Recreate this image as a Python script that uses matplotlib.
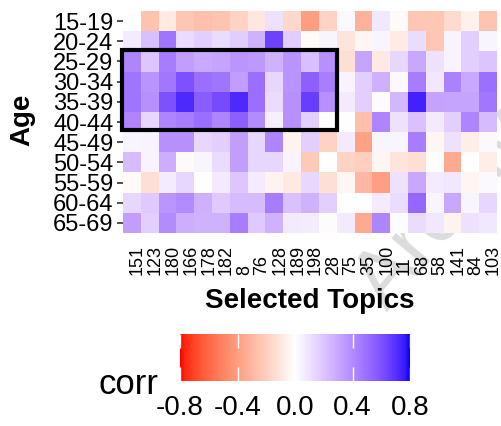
import numpy as np
import matplotlib
matplotlib.use('Agg')
import matplotlib.pyplot as plt
from matplotlib.colors import ListedColormap
from matplotlib.patches import Rectangle
import matplotlib.transforms as mtransforms

plt.rcParams['font.family'] = ['Liberation Sans', 'DejaVu Sans']
plt.rcParams['axes.unicode_minus'] = False

ages = ['15-19', '20-24', '25-29', '30-34', '35-39', '40-44',
        '45-49', '50-54', '55-59', '60-64', '65-69']
topics = ['151', '123', '180', '166', '178', '182', '8', '76', '128', '189', '198',
          '28', '75', '35', '100', '11', '68', '58', '141', '84', '103']

# correlation per age group (rows) and topic (columns)
corr = [
    [0.00, -0.25, -0.09, -0.23, -0.26, -0.24, -0.18, -0.10, 0.10, -0.16, -0.40, -0.18, 0.02, -0.32, 0.08, -0.02, -0.23, -0.23, -0.15, -0.06, -0.24],
    [0.06, 0.22, 0.48, 0.12, 0.16, 0.12, 0.17, 0.26, 0.65, 0.17, -0.02, 0.03, -0.11, -0.04, 0.03, -0.08, 0.12, -0.23, 0.04, 0.16, 0.03],
    [0.42, 0.19, 0.45, 0.33, 0.29, 0.31, 0.36, 0.35, 0.26, 0.37, 0.22, 0.38, -0.13, 0.31, -0.09, 0.14, 0.30, 0.10, 0.04, 0.16, 0.20],
    [0.48, 0.37, 0.47, 0.60, 0.50, 0.48, 0.33, 0.50, 0.14, 0.37, 0.55, 0.44, 0.04, 0.16, 0.27, 0.02, 0.45, 0.08, 0.43, 0.29, 0.49],
    [0.48, 0.38, 0.60, 0.72, 0.56, 0.62, 0.72, 0.50, 0.12, 0.38, 0.66, 0.38, 0.07, 0.16, 0.01, 0.24, 0.74, 0.32, 0.31, 0.31, 0.47],
    [0.42, 0.14, 0.42, 0.45, 0.50, 0.42, 0.55, 0.40, 0.05, 0.38, 0.16, 0.00, 0.00, -0.26, 0.42, 0.10, 0.21, 0.07, 0.16, 0.42, 0.23],
    [0.03, 0.04, 0.38, 0.38, 0.14, 0.16, 0.33, 0.14, 0.42, -0.05, 0.16, -0.18, 0.07, -0.38, 0.03, 0.03, 0.45, -0.04, 0.10, -0.07, 0.02],
    [0.23, 0.04, 0.28, -0.02, 0.03, 0.12, 0.33, 0.14, 0.14, 0.04, -0.22, 0.00, -0.18, -0.20, -0.04, -0.11, -0.13, 0.00, -0.35, 0.00, -0.07],
    [-0.02, -0.13, 0.06, 0.14, 0.00, 0.07, 0.19, 0.06, -0.05, -0.09, 0.13, -0.13, -0.04, -0.29, -0.39, 0.10, 0.30, 0.06, 0.08, -0.04, 0.02],
    [0.14, 0.18, 0.36, 0.40, 0.27, 0.18, 0.23, 0.23, 0.45, 0.21, 0.26, 0.16, 0.00, 0.00, 0.06, 0.12, 0.52, 0.03, 0.30, 0.03, 0.14],
    [0.33, 0.16, 0.40, 0.28, 0.26, 0.26, 0.45, 0.18, 0.26, 0.07, 0.06, -0.01, 0.07, -0.35, 0.42, 0.01, 0.12, 0.08, -0.05, 0.10, 0.08],
]

cbar_ticks = [-0.8, -0.4, 0.0, 0.4, 0.8]
cbar_labels = ['-0.8', '-0.4', '0.0', '0.4', '0.8']

# ggplot-like red-white-blue gradient, interpolated in Lab space
M = np.array([[0.4124, 0.3576, 0.1805],
              [0.2126, 0.7152, 0.0722],
              [0.0193, 0.1192, 0.9505]])
WP = np.array([0.95047, 1.0, 1.08883])


def to_lab(c):
    c = np.asarray(c, float)
    lin = np.where(c <= 0.04045, c / 12.92, ((c + 0.055) / 1.055) ** 2.4)
    xyz = M @ lin / WP
    f = np.where(xyz > 0.008856, np.cbrt(xyz), 7.787 * xyz + 16 / 116)
    return np.array([116 * f[1] - 16, 500 * (f[0] - f[1]), 200 * (f[1] - f[2])])


def from_lab(lab):
    L, a, b = lab
    fy = (L + 16) / 116
    f = np.array([fy + a / 500, fy, fy - b / 200])
    xyz = np.where(f ** 3 > 0.008856, f ** 3, (f - 16 / 116) / 7.787) * WP
    lin = np.clip(np.linalg.inv(M) @ xyz, 0, 1)
    srgb = np.where(lin <= 0.0031308, 12.92 * lin, 1.055 * lin ** (1 / 2.4) - 0.055)
    return np.clip(srgb, 0, 1)


white, red, blue = to_lab([1, 1, 1]), to_lab([1, 0, 0]), to_lab([0, 0, 1])
cols = []
for s in np.linspace(-1, 1, 257):
    end = red if s < 0 else blue
    cols.append(from_lab(white + abs(s) * (end - white)))
cmap = ListedColormap(cols)

W, H = 501, 426
fig = plt.figure(figsize=(W / 100, H / 100), dpi=100)

# watermark behind everything (it is cut by the edge in the original too)
fig.text(387 / W, 1 - 312 / H, 'Archive', rotation=50, rotation_mode='anchor',
         ha='left', va='baseline', fontsize=60, color='#dcdcdc', zorder=-5)

ax = fig.add_axes([123.3 / W, 1 - 233 / H, 373.7 / W, 222 / H])
im = ax.imshow(np.array(corr), cmap=cmap, vmin=-0.8, vmax=0.8,
               aspect='auto', interpolation='nearest')
for s in ax.spines.values():
    s.set_visible(False)

ax.set_yticks(range(len(ages)))
ax.set_yticklabels(ages, fontsize=17)
ax.tick_params(axis='y', length=4, width=1.2, color='#333333', pad=3)
ax.set_xticks([])

# rotated topic labels, bottom-aligned like the original
trans = mtransforms.blended_transform_factory(ax.transData, fig.transFigure)
for i, t in enumerate(topics):
    ax.text(i + 0.3, 1 - 275 / H, t, rotation=90, ha='center', va='bottom',
            fontsize=13, transform=trans, clip_on=False)

# highlight box
ax.add_patch(Rectangle((-0.55, 1.45), 12.05, 3.95, fill=False,
                       edgecolor='black', linewidth=3, clip_on=False, zorder=5))

fig.text(310 / W, 1 - 301 / H, 'Selected Topics', ha='center', va='center',
         fontsize=20, fontweight='bold')
fig.text(22 / W, 1 - 120 / H, 'Age', rotation=90, ha='center', va='center',
         fontsize=20, fontweight='bold')

# colorbar
cax = fig.add_axes([180 / W, 1 - 381 / H, 230 / W, 47 / H])
cb = fig.colorbar(im, cax=cax, orientation='horizontal')
cb.outline.set_visible(False)
cb.set_ticks(cbar_ticks)
cb.set_ticklabels(cbar_labels)
cax.tick_params(direction='in', length=10, width=1, color='white',
                top=True, bottom=True, labelsize=20, pad=10)
fig.text(98 / W, 1 - 394 / H, 'corr', ha='left', va='baseline', fontsize=25)

fig.savefig('out.png', dpi=100)
